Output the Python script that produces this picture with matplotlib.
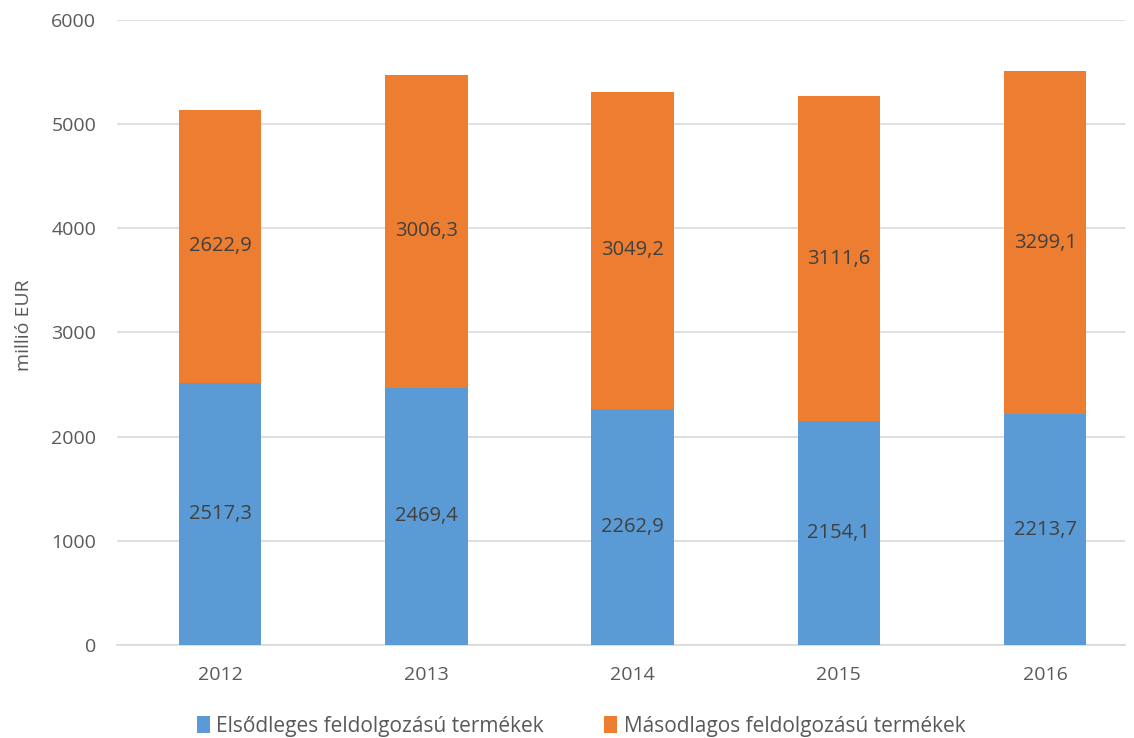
import matplotlib
matplotlib.use("Agg")
import matplotlib.pyplot as plt

# ── data ─────────────────────────────────────────────────────────────────────
years     = ["2012", "2013", "2014", "2015", "2016"]
primary   = [2517.3, 2469.4, 2262.9, 2154.1, 2213.7]
secondary = [2622.9, 3006.3, 3049.2, 3111.6, 3299.1]
legend_labels = ["Elsődleges feldolgozású termékek", "Másodlagos feldolgozású termékek"]

c_blue   = "#5B9BD5"
c_orange = "#ED7D31"
txt_col  = "#404040"
tick_col = "#595959"
grid_col = "#D9D9D9"

plt.rcParams["font.family"] = ["Open Sans", "DejaVu Sans"]

fig = plt.figure(figsize=(11.34, 7.38), dpi=100)
ax = fig.add_axes([0.1032, 0.126, 0.8888, 0.847])

x = list(range(len(years)))
w = 0.40
b1 = ax.bar(x, primary, width=w, color=c_blue, zorder=3)
b2 = ax.bar(x, secondary, width=w, bottom=primary, color=c_orange, zorder=3)

fmt = lambda v: f"{v:.1f}".replace(".", ",")
for i in x:
    ax.text(i, primary[i] / 2, fmt(primary[i]), ha="center", va="center",
            fontsize=14.5, color=txt_col, zorder=4)
    ax.text(i, primary[i] + secondary[i] / 2, fmt(secondary[i]), ha="center",
            va="center", fontsize=14.5, color=txt_col, zorder=4)

ax.set_xlim(-0.5, 4.387)
ax.set_ylim(0, 6000)
ax.set_yticks(range(0, 6001, 1000))
ax.set_xticks(x)
ax.set_xticklabels(years)
ax.tick_params(axis="both", length=0, labelsize=14, colors=tick_col)
ax.tick_params(axis="y", pad=15)
ax.tick_params(axis="x", pad=15)
ax.yaxis.grid(True, color=grid_col, linewidth=1.2)
ax.set_axisbelow(True)
for s in ["top", "right", "left"]:
    ax.spines[s].set_visible(False)
ax.spines["bottom"].set_color(grid_col)
ax.spines["bottom"].set_linewidth(1.2)

ax.set_ylabel("millió EUR", fontsize=14, color=tick_col)
ax.yaxis.set_label_coords(-0.083, 0.512)

fig.legend([b1, b2], legend_labels, loc="lower center", ncol=2,
           bbox_to_anchor=(0.5125, -0.024), frameon=False,
           prop={"family": ["Open Sans", "DejaVu Sans"], "size": 15},
           handlelength=0.62, handleheight=0.9, columnspacing=2.9,
           handletextpad=0.3, labelcolor=tick_col)

fig.savefig("out.png", dpi=100)
